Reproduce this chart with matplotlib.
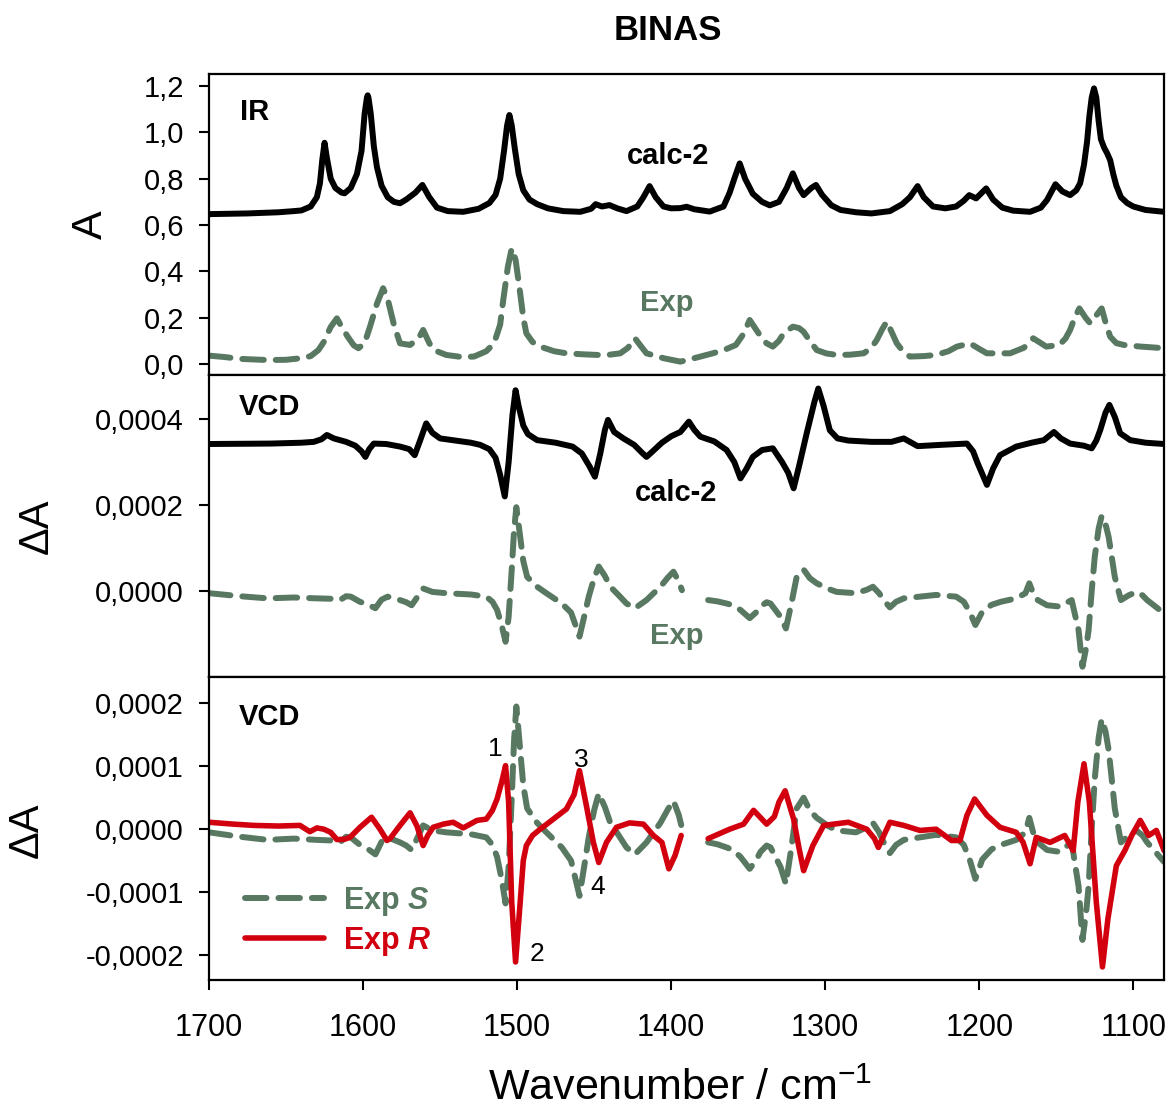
import numpy as np
import matplotlib
matplotlib.use("Agg")
import matplotlib.pyplot as plt
from matplotlib.ticker import FuncFormatter, MultipleLocator

plt.rcParams['font.family'] = ['Liberation Sans', 'DejaVu Sans']
plt.rcParams['mathtext.fontset'] = 'custom'
plt.rcParams['mathtext.rm'] = 'Liberation Sans'
plt.rcParams['mathtext.it'] = 'Liberation Sans:italic'
plt.rcParams['mathtext.bf'] = 'Liberation Sans:bold'
plt.rcParams['mathtext.bfit'] = 'Liberation Sans:bold:italic'

# ---------------- IR: calculated spectrum (calc-2, offset) ----------------
ir_calc_wn = [1700, 1675, 1655, 1645, 1640, 1634, 1630, 1628, 1626.5, 1625, 1623.5, 1621, 1618,
              1614, 1612, 1608, 1604, 1601, 1599, 1597.5, 1597, 1596.5, 1595, 1593, 1591, 1588,
              1584, 1580, 1576, 1572, 1566, 1561.5, 1557, 1552, 1545, 1535, 1525, 1518, 1514,
              1511, 1508.5, 1506.5, 1505, 1503.5, 1501.5, 1499, 1496, 1492, 1487, 1480, 1470,
              1459, 1452, 1449, 1445, 1440, 1435, 1429, 1422, 1418, 1414, 1410, 1405, 1400, 1394,
              1390, 1385, 1375, 1366, 1362, 1359, 1355.5, 1352, 1347, 1341, 1336, 1330, 1325,
              1321, 1317, 1314, 1309, 1306, 1302, 1296, 1290, 1280, 1270, 1258, 1250, 1245, 1240,
              1236, 1230, 1222, 1215, 1210, 1206.5, 1202, 1195.5, 1191, 1185, 1178, 1167, 1160,
              1156, 1150.5, 1146, 1141, 1137, 1134.5, 1132, 1130, 1128.5, 1127, 1125.5, 1124,
              1122.5, 1121, 1119, 1117, 1115, 1113, 1111, 1108, 1104, 1100, 1092, 1080]
ir_calc_a = [0.647, 0.650, 0.655, 0.660, 0.663, 0.680, 0.720, 0.780, 0.880, 0.955, 0.890, 0.800,
             0.760, 0.740, 0.737, 0.760, 0.820, 0.920, 1.080, 1.150, 1.160, 1.150, 1.080, 0.940,
             0.850, 0.770, 0.720, 0.700, 0.694, 0.710, 0.740, 0.773, 0.720, 0.675, 0.660, 0.657,
             0.670, 0.695, 0.730, 0.800, 0.920, 1.030, 1.075, 1.030, 0.930, 0.820, 0.750, 0.710,
             0.690, 0.672, 0.660, 0.657, 0.670, 0.690, 0.680, 0.686, 0.672, 0.660, 0.680, 0.720,
             0.768, 0.720, 0.680, 0.672, 0.673, 0.679, 0.668, 0.658, 0.680, 0.740, 0.800, 0.866,
             0.800, 0.735, 0.700, 0.685, 0.700, 0.760, 0.823, 0.760, 0.729, 0.760, 0.773, 0.730,
             0.685, 0.665, 0.655, 0.650, 0.660, 0.690, 0.720, 0.768, 0.720, 0.680, 0.672, 0.680,
             0.705, 0.729, 0.715, 0.758, 0.710, 0.675, 0.662, 0.657, 0.675, 0.708, 0.776, 0.745,
             0.729, 0.750, 0.780, 0.860, 0.960, 1.070, 1.150, 1.190, 1.150, 1.050, 0.970, 0.935,
             0.910, 0.880, 0.820, 0.770, 0.720, 0.695, 0.680, 0.665, 0.657]

# ---------------- IR: experimental spectrum ----------------
ir_exp_wn = [1700, 1690, 1680, 1662, 1650, 1640, 1634, 1629, 1625.5, 1621, 1617, 1613, 1610,
             1606, 1603, 1599, 1595.5, 1591, 1587, 1584, 1580, 1576, 1569.5, 1564, 1561, 1557,
             1554, 1546, 1536, 1528, 1520, 1515, 1511, 1509, 1506, 1503.5, 1501, 1498, 1496,
             1494, 1490, 1485, 1476, 1468, 1458, 1448, 1440, 1433, 1428, 1423.5, 1420, 1416,
             1405, 1394, 1385, 1373, 1365, 1358, 1353, 1349, 1345, 1341, 1338, 1334, 1330,
             1327, 1321, 1317, 1314, 1310, 1305.5, 1299, 1292.5, 1284, 1275, 1270, 1266.5,
             1263, 1260, 1257, 1253.5, 1249, 1245, 1236, 1228, 1220, 1214.5, 1206, 1200, 1195,
             1180, 1171, 1165, 1160, 1156.5, 1148, 1144, 1141, 1138, 1135, 1131, 1128, 1124,
             1120.5, 1118, 1115, 1111, 1106, 1095, 1080]
ir_exp_a = [0.036, 0.030, 0.022, 0.017, 0.018, 0.025, 0.034, 0.060, 0.095, 0.160, 0.197, 0.150, 0.118,
            0.080, 0.068, 0.090, 0.161, 0.260, 0.327, 0.280, 0.170, 0.089, 0.082, 0.110, 0.147, 0.090,
            0.060, 0.039, 0.030, 0.032, 0.055, 0.089, 0.170, 0.276, 0.420, 0.499, 0.450, 0.305, 0.200,
            0.132, 0.095, 0.075, 0.055, 0.046, 0.042, 0.039, 0.040, 0.046, 0.070, 0.111, 0.080, 0.046,
            0.025, 0.010, 0.025, 0.046, 0.062, 0.082, 0.130, 0.190, 0.150, 0.110, 0.089, 0.075, 0.100,
            0.132, 0.161, 0.155, 0.139, 0.100, 0.060, 0.045, 0.039, 0.040, 0.046, 0.070, 0.104,
            0.150, 0.183, 0.140, 0.089, 0.050, 0.032, 0.034, 0.039, 0.055, 0.075, 0.089, 0.065, 0.046,
            0.046, 0.070, 0.111, 0.090, 0.075, 0.082, 0.110, 0.147, 0.200, 0.240, 0.200, 0.176, 0.210,
            0.240, 0.180, 0.118, 0.090, 0.082, 0.075, 0.068]

# ---------------- VCD: calculated spectrum (calc-2, offset) ----------------
vcd_calc_wn = [1700, 1660, 1640, 1632, 1627, 1623.5, 1619, 1611, 1605, 1601, 1598.5, 1596, 1593,
               1585, 1576, 1570, 1566.5, 1563, 1559, 1555, 1550, 1540, 1530, 1524, 1518, 1514,
               1511, 1508, 1505.5, 1503, 1501, 1499, 1496, 1493, 1487, 1475, 1464, 1458, 1453,
               1449.5, 1446, 1443, 1441, 1437, 1431, 1424, 1419, 1416, 1412, 1406, 1400, 1394,
               1388.5, 1385, 1381, 1372, 1364, 1359, 1355, 1351, 1347, 1341, 1334, 1328, 1324,
               1320.5, 1317, 1312, 1307, 1304.5, 1301, 1297, 1292, 1285, 1270, 1257, 1252, 1249,
               1244, 1240, 1225, 1208, 1204, 1201, 1195, 1191, 1186.5, 1176, 1166, 1158, 1151.5,
               1147, 1141, 1132, 1127, 1124, 1121.5, 1118, 1115.5, 1112, 1108.5, 1102, 1092, 1080]
vcd_calc_da = [3.42e-4, 3.43e-4, 3.45e-4, 3.47e-4, 3.53e-4, 3.63e-4, 3.55e-4, 3.47e-4, 3.38e-4,
               3.25e-4, 3.12e-4, 3.30e-4, 3.43e-4, 3.42e-4, 3.36e-4, 3.30e-4, 3.16e-4, 3.50e-4,
               3.90e-4, 3.68e-4, 3.55e-4, 3.50e-4, 3.45e-4, 3.40e-4, 3.30e-4, 3.10e-4, 2.70e-4,
               2.20e-4, 3.00e-4, 4.10e-4, 4.67e-4, 4.30e-4, 3.85e-4, 3.65e-4, 3.51e-4, 3.45e-4,
               3.36e-4, 3.20e-4, 2.90e-4, 2.66e-4, 3.20e-4, 3.75e-4, 3.98e-4, 3.70e-4, 3.55e-4,
               3.40e-4, 3.22e-4, 3.12e-4, 3.25e-4, 3.45e-4, 3.60e-4, 3.70e-4, 3.94e-4, 3.75e-4,
               3.59e-4, 3.48e-4, 3.28e-4, 3.00e-4, 2.62e-4, 2.85e-4, 3.12e-4, 3.28e-4, 3.32e-4,
               3.00e-4, 2.75e-4, 2.39e-4, 2.90e-4, 3.67e-4, 4.40e-4, 4.71e-4, 4.30e-4, 3.74e-4,
               3.55e-4, 3.50e-4, 3.47e-4, 3.47e-4, 3.52e-4, 3.55e-4, 3.45e-4, 3.37e-4, 3.40e-4,
               3.43e-4, 3.25e-4, 2.97e-4, 2.47e-4, 2.85e-4, 3.16e-4, 3.36e-4, 3.45e-4, 3.51e-4,
               3.70e-4, 3.55e-4, 3.43e-4, 3.38e-4, 3.32e-4, 3.50e-4, 3.74e-4, 4.15e-4, 4.33e-4,
               4.05e-4, 3.67e-4, 3.51e-4, 3.45e-4, 3.42e-4]

# ---------------- VCD: experimental, S enantiomer (gap = no data) ----------------
vcd_s_wn = [1700, 1680, 1662, 1645, 1630, 1620, 1615, 1611, 1608, 1602, 1596, 1592, 1588, 1584,
            1576, 1572, 1568.5, 1564, 1561, 1555, 1546, 1530, 1520, 1516, 1513, 1510, 1507.5,
            1505.5, 1503.5, 1502, 1500.5, 1498.5, 1496, 1493.5, 1487, 1481, 1471, 1465, 1462,
            1459.5, 1456.5, 1453.5, 1450, 1447, 1443, 1439.5, 1434, 1429, 1423.5, 1416, 1407,
            1402, 1398.5, 1395, 1393, 1385,
            1376, 1370, 1364, 1360, 1355, 1349, 1345, 1342, 1338, 1335.5, 1329, 1325.5, 1322,
            1318.5, 1314, 1310, 1305.5, 1298, 1292.5, 1280, 1273, 1269, 1265, 1262, 1258, 1254,
            1249, 1238.5, 1228, 1215, 1210, 1206, 1202.5, 1198, 1192, 1186, 1176, 1170, 1167.5,
            1165, 1162, 1156, 1148, 1140, 1137.5, 1135.5, 1133, 1130.5, 1129, 1127, 1125, 1122.5,
            1120.5, 1118, 1116, 1114, 1112, 1108, 1103, 1098, 1094, 1091, 1086, 1080]
vcd_s_da = [-0.5e-5, -1.2e-5, -1.7e-5, -1.5e-5, -1.7e-5, -1.8e-5, -2.1e-5, -1.2e-5, -1.3e-5,
            -2.5e-5, -3.3e-5, -4.0e-5, -2.0e-5, -1.3e-5, -2.1e-5, -2.6e-5, -3.3e-5, -1.0e-5,
            0.6e-5, -0.2e-5, -0.5e-5, -0.8e-5, -1.3e-5, -2.5e-5, -4.4e-5, -8.0e-5, -1.18e-4,
            -6.0e-5, 4.9e-5, 1.40e-4, 1.95e-4, 1.40e-4, 7.0e-5, 3.3e-5, 1.0e-5, -0.5e-5, -2.9e-5,
            -5.0e-5, -8.0e-5, -1.06e-4, -6.0e-5, -1.3e-5, 3.0e-5, 5.7e-5, 3.5e-5, 1.0e-5, -1.0e-5,
            -2.9e-5, -4.0e-5, -2.1e-5, 1.0e-5, 3.2e-5, 4.5e-5, 2.2e-5, 0.2e-5, np.nan,
            -2.1e-5, -2.4e-5, -2.9e-5, -3.3e-5, -4.4e-5, -6.3e-5, -5.0e-5, -3.6e-5, -2.6e-5,
            -2.9e-5, -6.0e-5, -8.7e-5, -3.0e-5, 3.3e-5, 5.0e-5, 3.0e-5, 1.8e-5, 0.5e-5, -0.2e-5,
            -0.5e-5, 0.3e-5, 1.0e-5, -0.5e-5, -2.1e-5, -3.8e-5, -2.5e-5, -1.7e-5, -1.3e-5,
            -0.9e-5, -1.3e-5, -2.5e-5, -5.0e-5, -7.9e-5, -4.8e-5, -3.2e-5, -2.5e-5, -1.7e-5,
            -0.5e-5, 1.8e-5, -0.5e-5, -2.1e-5, -3.3e-5, -3.6e-5, -2.1e-5, -6.0e-5, -9.1e-5,
            -1.76e-4, -1.30e-4, -9.1e-5, 0.0, 8.0e-5, 1.45e-4, 1.75e-4, 1.55e-4, 1.26e-4, 8.0e-5,
            3.3e-5, -2.1e-5, -1.0e-5, -0.2e-5, -1.0e-5, -2.1e-5, -3.5e-5, -5.2e-5]

# ---------------- VCD: experimental, R enantiomer (gap = no data) ----------------
vcd_r_wn = [1700, 1684, 1671, 1655, 1641, 1634.5, 1630, 1625.5, 1621, 1617, 1612, 1608.5, 1602,
            1594.5, 1589, 1584.5, 1582.5, 1576, 1569.5, 1565, 1561, 1558, 1554.5, 1548, 1541.5,
            1535, 1526, 1520, 1516, 1513, 1510, 1507.5, 1505.5, 1503.5, 1501, 1498, 1496, 1494,
            1490, 1485, 1476.5, 1468, 1463, 1459.5, 1455, 1450.5, 1447, 1442, 1435.5, 1427, 1418,
            1411.5, 1406, 1401.5, 1397.5, 1393.5, 1385,
            1376, 1362, 1353, 1346.5, 1338, 1333, 1330, 1326, 1320.5, 1317, 1314, 1308, 1301,
            1285, 1273, 1268, 1265.5, 1261, 1258, 1249, 1238.5, 1228, 1218, 1212.5, 1208, 1203,
            1195, 1186.5, 1176, 1171.5, 1167, 1163, 1154, 1144.5, 1139, 1136, 1132, 1128.5, 1124,
            1120, 1116.5, 1111, 1105.5, 1101, 1095.5, 1090, 1085, 1080]
vcd_r_da = [1.1e-5, 0.8e-5, 0.6e-5, 0.5e-5, 0.6e-5, -0.4e-5, 0.2e-5, 0.0, -0.5e-5, -1.65e-5,
            -1.6e-5, -1.3e-5, 0.3e-5, 1.9e-5, 0.0, -1.8e-5, -1.5e-5, 0.6e-5, 2.6e-5, 0.5e-5,
            -2.6e-5, -1.0e-5, 0.3e-5, 0.8e-5, 1.1e-5, 0.2e-5, 1.4e-5, 1.6e-5, 3.0e-5, 4.8e-5,
            7.5e-5, 1.01e-4, 4.3e-5, -1.16e-4, -2.11e-4, -1.16e-4, -5.0e-5, -2.6e-5, -1.0e-5, 0.0,
            1.6e-5, 3.2e-5, 5.5e-5, 9.3e-5, 3.7e-5, -2.1e-5, -5.3e-5, -2.1e-5, 0.3e-5, 1.0e-5,
            0.8e-5, -1.0e-5, -2.1e-5, -6.3e-5, -4.2e-5, -1.0e-5, np.nan,
            -1.5e-5, 0.0, 0.8e-5, 3.0e-5, 0.8e-5, 2.0e-5, 4.3e-5, 6.1e-5, 1.6e-5, -3.0e-5,
            -6.6e-5, -2.6e-5, 0.6e-5, 1.1e-5, 0.0, -1.5e-5, -2.9e-5, -0.5e-5, 1.1e-5, 0.6e-5,
            -0.2e-5, 0.0, -1.8e-5, -1.8e-5, 2.2e-5, 4.8e-5, 2.2e-5, 0.3e-5, -0.5e-5, -2.1e-5,
            -5.5e-5, -1.3e-5, -2.1e-5, -1.0e-5, -3.4e-5, 4.3e-5, 1.04e-4, 4.3e-5, -1.16e-4,
            -2.19e-4, -1.43e-4, -5.8e-5, -3.4e-5, -1.0e-5, 1.4e-5, -1.0e-5, -0.2e-5, -3.4e-5]

# numbered bands on the R spectrum: (label, wavenumber, dA)
band_labels = ['1', '2', '3', '4']
band_wn = [1514, 1487, 1458.5, 1447.5]
band_da = [1.28e-4, -1.98e-4, 1.10e-4, -0.92e-4]

# ---------------- styling ----------------
BLACK = '#000000'
GREEN = '#587862'
RED = '#d2000f'
LW = 4.3
DASH = (3.6, 2.0)

fig = plt.figure(figsize=(11.73, 11.13), dpi=100)
left, width = 0.1782, 0.8142
ax_ir = fig.add_axes([left, 0.6631, width, 0.2704])
ax_vcd = fig.add_axes([left, 0.3917, width, 0.2713])
ax_cmp = fig.add_axes([left, 0.1195, width, 0.2722])

for ax in (ax_ir, ax_vcd, ax_cmp):
    ax.set_xlim(1700, 1080)
    for sp in ax.spines.values():
        sp.set_linewidth(1.6)
    ax.tick_params(axis='y', direction='out', length=7, width=1.5, labelsize=21, pad=11)
    ax.tick_params(axis='x', direction='out', length=7, width=1.5, labelsize=22, pad=17)

ax_ir.tick_params(axis='x', bottom=False, labelbottom=False)
ax_vcd.tick_params(axis='x', bottom=False, labelbottom=False)
ax_cmp.xaxis.set_major_locator(MultipleLocator(100))

comma1 = FuncFormatter(lambda v, p: f"{v:.1f}".replace('.', ','))
comma4 = FuncFormatter(lambda v, p: f"{v:.4f}".replace('.', ','))

solid = dict(solid_capstyle='round', solid_joinstyle='round')
dashed = dict(linestyle=(0, DASH), dash_capstyle='round', dash_joinstyle='round')

# IR panel
ax_ir.plot(ir_calc_wn, ir_calc_a, color=BLACK, lw=LW, **solid)
ax_ir.plot(ir_exp_wn, ir_exp_a, color=GREEN, lw=LW, **dashed)
ax_ir.set_ylim(-0.0475, 1.252)
ax_ir.set_yticks(np.arange(0, 1.21, 0.2))
ax_ir.yaxis.set_major_formatter(comma1)
ax_ir.set_ylabel('A', fontsize=31)
ax_ir.yaxis.label.set_va('center')
ax_ir.yaxis.set_label_coords(-0.124, 0.5)
ax_ir.text(0.032, 0.874, 'IR', transform=ax_ir.transAxes, fontsize=21, fontweight='bold',
           ha='left', va='center')
ax_ir.text(1402, 0.898, 'calc-2', fontsize=21, fontweight='bold', ha='center', va='center')
ax_ir.text(1402.7, 0.263, 'Exp', fontsize=21, fontweight='bold', color=GREEN,
           ha='center', va='center')

# VCD panel: calculated vs experimental
ax_vcd.plot(vcd_calc_wn, vcd_calc_da, color=BLACK, lw=LW, **solid)
ax_vcd.plot(vcd_s_wn, vcd_s_da, color=GREEN, lw=LW, **dashed)
ax_vcd.set_ylim(-0.0002, 0.0005023)
ax_vcd.set_yticks([0.0, 0.0002, 0.0004])
ax_vcd.yaxis.set_major_formatter(comma4)
ax_vcd.set_ylabel('ΔA', fontsize=30)
ax_vcd.yaxis.label.set_va('center')
ax_vcd.yaxis.set_label_coords(-0.180, 0.5)
ax_vcd.text(0.031, 0.894, 'VCD', transform=ax_vcd.transAxes, fontsize=21, fontweight='bold',
            ha='left', va='center')
ax_vcd.text(1396.9, 0.000228, 'calc-2', fontsize=21, fontweight='bold', ha='center', va='center')
ax_vcd.text(1396.2, -0.000105, 'Exp', fontsize=21, fontweight='bold', color=GREEN,
            ha='center', va='center')

# VCD panel: both enantiomers
ax_cmp.plot(vcd_s_wn, vcd_s_da, color=GREEN, lw=LW, label=r'Exp $\boldsymbol{S}$', **dashed)
ax_cmp.plot(vcd_r_wn, vcd_r_da, color=RED, lw=LW - 0.3, label=r'Exp $\boldsymbol{R}$', **solid)
ax_cmp.set_ylim(-0.0002397, 0.0002418)
ax_cmp.set_yticks(np.arange(-0.0002, 0.00021, 0.0001))
ax_cmp.yaxis.set_major_formatter(comma4)
ax_cmp.set_ylabel('ΔA', fontsize=30)
ax_cmp.yaxis.label.set_va('center')
ax_cmp.yaxis.set_label_coords(-0.191, 0.495)
ax_cmp.text(0.031, 0.868, 'VCD', transform=ax_cmp.transAxes, fontsize=21, fontweight='bold',
            ha='left', va='center')
for lab, wn, da in zip(band_labels, band_wn, band_da):
    ax_cmp.text(wn, da, lab, fontsize=19, ha='center', va='center')

leg = ax_cmp.legend(loc='center left', bbox_to_anchor=(0.0377, 0.193), frameon=False,
                    prop={'weight': 'bold', 'size': 22}, handlelength=2.6,
                    handletextpad=0.6, labelspacing=0.22, borderpad=0, borderaxespad=0)
for txt, col in zip(leg.get_texts(), [GREEN, RED]):
    txt.set_color(col)

ax_cmp.set_xlabel(r'Wavenumber / cm$^{\mathregular{-1}}$', fontsize=31)
ax_cmp.xaxis.set_label_coords(0.493, -0.36)
ax_cmp.xaxis.label.set_va('center')

fig.text(0.569, 1 - 30 / 1113, 'BINAS', fontsize=25, fontweight='bold', ha='center', va='center')

fig.savefig('out.png', dpi=100, facecolor='white')
